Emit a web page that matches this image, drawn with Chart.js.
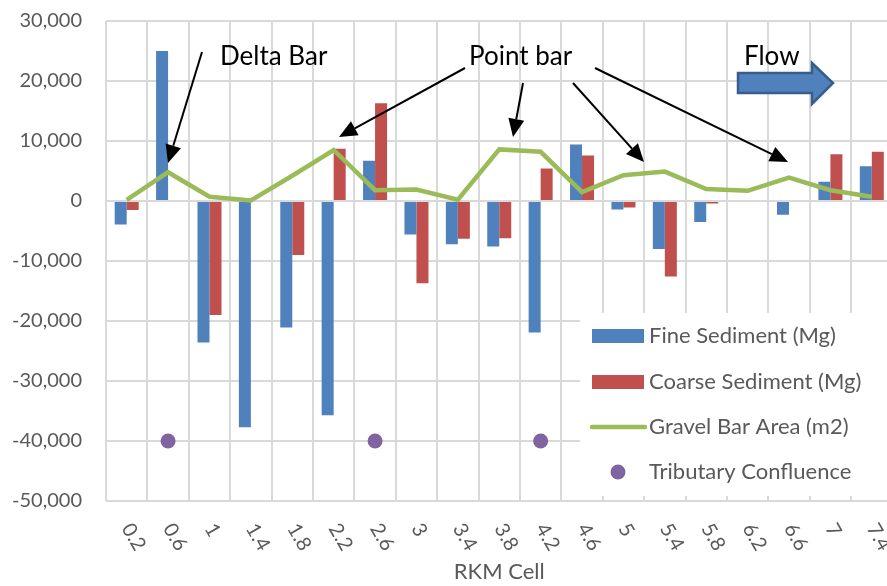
<!DOCTYPE html>
<html>
<head>
<meta charset="utf-8">
<script src="https://cdn.jsdelivr.net/npm/chart.js@4"></script>
<style>
  html, body { margin: 0; padding: 0; background: #fff; overflow: hidden; }
  #wrap { width: 900px; height: 586px; }
</style>
</head>
<body>
<div id="wrap"><canvas id="chart"></canvas></div>
<script>
// RKM cells along the river
const rkmCells = ['0.2', '0.6', '1', '1.4', '1.8', '2.2', '2.6', '3', '3.4', '3.8',
  '4.2', '4.6', '5', '5.4', '5.8', '6.2', '6.6', '7', '7.4'];

// sediment change per cell (Mg)
const fineSediment = [-3900, 25000, -23600, -37700, -21100, -35700, 6700, -5600, -7200, -7600,
  -21900, 9400, -1400, -8000, -3500, 0, -2300, 3200, 5800];
const coarseSediment = [-1500, 0, -19000, 0, -9000, 8700, 16300, -13700, -6300, -6200,
  5400, 7600, -1100, -12600, -400, 0, 0, 7800, 8200];

// gravel bar area (m2)
const gravelBarArea = [200, 4800, 700, 100, 4200, 8500, 1800, 1900, 200, 8600,
  8200, 1500, 4300, 4900, 2000, 1700, 3900, 1800, 700];

// tributaries enter at these cells, plotted on a fixed marker row
const tributaryConfluence = [null, -40000, null, null, null, null, -40000, null, null, null,
  -40000, null, null, null, null, null, null, null, null];

const yTicks = { min: -50000, max: 30000, step: 10000 };

const BLUE = '#4F81BD', RED = '#C0504D', GREEN = '#9BBB59', PURPLE = '#8064A2';
const TEXT = '#595959', GRID = '#D9D9D9';
const FONT = 'Lato, "Liberation Sans", sans-serif';

function arrow(ctx, x1, y1, x2, y2) {
  const a = Math.atan2(y2 - y1, x2 - x1);
  const len = 18, half = 8;
  const bx = x2 - len * Math.cos(a), by = y2 - len * Math.sin(a);
  ctx.beginPath();
  ctx.moveTo(x1, y1);
  ctx.lineTo(bx, by);
  ctx.stroke();
  ctx.beginPath();
  ctx.moveTo(x2, y2);
  ctx.lineTo(bx + half * Math.sin(a), by - half * Math.cos(a));
  ctx.lineTo(bx - half * Math.sin(a), by + half * Math.cos(a));
  ctx.closePath();
  ctx.fill();
}

const overlay = {
  id: 'overlay',
  afterDraw(chart) {
    const ctx = chart.ctx;
    const xs = chart.scales.x;

    // category labels, turned down to the right
    ctx.save();
    ctx.fillStyle = TEXT;
    ctx.font = '20px ' + FONT;
    ctx.textAlign = 'left';
    ctx.textBaseline = 'middle';
    rkmCells.forEach((lab, i) => {
      ctx.save();
      ctx.translate(xs.getPixelForValue(i), 525);
      ctx.rotate(Math.PI / 3);
      ctx.fillText(lab, 0, 0);
      ctx.restore();
    });
    ctx.restore();

    // legend box inside the plot
    ctx.save();
    ctx.fillStyle = '#fff';
    ctx.fillRect(580, 313, 330, 183);
    ctx.font = '22px ' + FONT;
    ctx.textAlign = 'left';
    ctx.textBaseline = 'middle';
    const rows = [
      { label: 'Fine Sediment (Mg)', kind: 'bar', color: BLUE, y: 336 },
      { label: 'Coarse Sediment (Mg)', kind: 'bar', color: RED, y: 382 },
      { label: 'Gravel Bar Area (m2)', kind: 'line', color: GREEN, y: 427 },
      { label: 'Tributary Confluence', kind: 'dot', color: PURPLE, y: 472 }
    ];
    rows.forEach(r => {
      if (r.kind === 'bar') {
        ctx.fillStyle = r.color;
        ctx.fillRect(592, r.y - 7, 52, 14);
      } else if (r.kind === 'line') {
        ctx.strokeStyle = r.color;
        ctx.lineWidth = 4.5;
        ctx.lineCap = 'round';
        ctx.beginPath();
        ctx.moveTo(592, r.y);
        ctx.lineTo(645, r.y);
        ctx.stroke();
      } else {
        ctx.fillStyle = r.color;
        ctx.beginPath();
        ctx.arc(618, r.y, 7.5, 0, Math.PI * 2);
        ctx.fill();
      }
      ctx.fillStyle = TEXT;
      ctx.fillText(r.label, 649, r.y);
    });
    ctx.restore();

    // callouts
    ctx.save();
    ctx.fillStyle = '#000';
    ctx.strokeStyle = '#000';
    ctx.lineWidth = 2;
    ctx.font = '26px ' + FONT;
    ctx.textAlign = 'left';
    ctx.textBaseline = 'alphabetic';
    ctx.fillText('Delta Bar', 220, 65);
    ctx.fillText('Point bar', 469, 65);
    ctx.fillText('Flow', 744, 65);
    arrow(ctx, 202, 52, 168, 163);
    arrow(ctx, 465, 68, 339, 137);
    arrow(ctx, 523, 83, 513, 137);
    arrow(ctx, 573, 83, 644, 162);
    arrow(ctx, 595, 68, 788, 162);

    // flow direction block arrow
    ctx.beginPath();
    ctx.moveTo(738, 73);
    ctx.lineTo(812, 73);
    ctx.lineTo(812, 63);
    ctx.lineTo(833, 83);
    ctx.lineTo(812, 104);
    ctx.lineTo(812, 93);
    ctx.lineTo(738, 93);
    ctx.closePath();
    ctx.fillStyle = BLUE;
    ctx.fill();
    ctx.strokeStyle = '#385D8A';
    ctx.lineWidth = 2.5;
    ctx.stroke();
    ctx.restore();
  }
};

new Chart(document.getElementById('chart'), {
  type: 'bar',
  data: {
    labels: rkmCells,
    datasets: [
      { type: 'line', label: 'Tributary Confluence', data: tributaryConfluence, showLine: false,
        pointRadius: 7.5, pointBackgroundColor: PURPLE, pointBorderWidth: 0, order: 0 },
      { type: 'line', label: 'Gravel Bar Area (m2)', data: gravelBarArea, borderColor: GREEN,
        borderWidth: 4.5, pointRadius: 0, tension: 0, fill: false, order: 1 },
      { label: 'Fine Sediment (Mg)', data: fineSediment, backgroundColor: BLUE, order: 2,
        categoryPercentage: 0.58, barPercentage: 1 },
      { label: 'Coarse Sediment (Mg)', data: coarseSediment, backgroundColor: RED, order: 2,
        categoryPercentage: 0.58, barPercentage: 1 }
    ]
  },
  options: {
    responsive: true,
    maintainAspectRatio: false,
    animation: false,
    layout: { padding: { top: 0, right: 4, left: 0, bottom: 0 } },
    plugins: { legend: { display: false }, tooltip: { enabled: false } },
    scales: {
      x: {
        grid: { color: GRID, lineWidth: 2, drawTicks: false, offset: true },
        border: { display: false },
        ticks: { display: false },
        title: { display: true, text: 'RKM Cell', color: TEXT, font: { family: FONT, size: 22 },
          padding: { top: 0, bottom: 1 } },
        afterFit(scale) { scale.height = 85; }
      },
      y: {
        min: yTicks.min,
        max: yTicks.max,
        grid: { color: GRID, lineWidth: 2, drawTicks: false },
        border: { display: false },
        ticks: {
          stepSize: yTicks.step,
          color: TEXT,
          font: { family: FONT, size: 20 },
          padding: 24,
          callback: v => v.toLocaleString('en-US')
        },
        afterFit(scale) {
          scale.width = 106;
          // room above the top label only, not the tick padding
          scale.paddingTop = 21;
          scale.paddingBottom = 0;
        }
      }
    }
  },
  plugins: [overlay]
});
</script>
</body>
</html>
